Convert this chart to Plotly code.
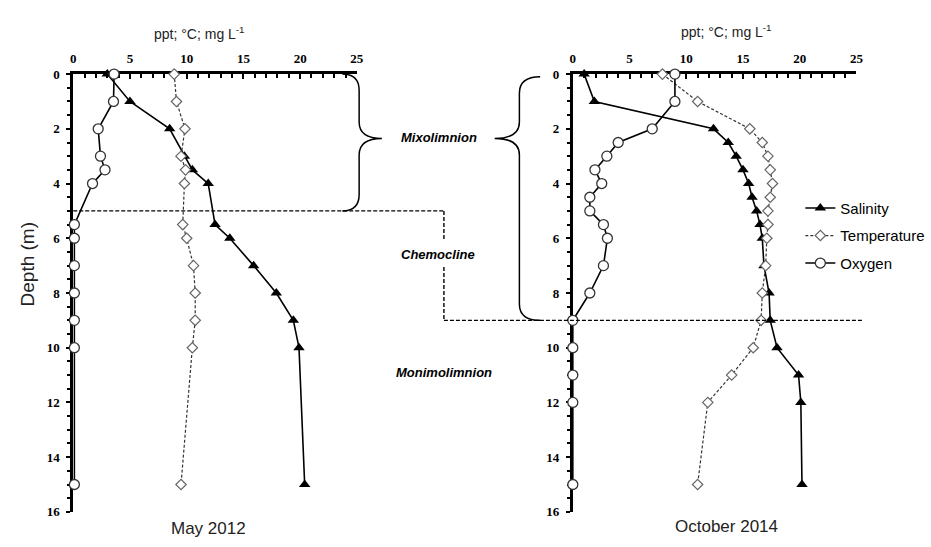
import plotly.graph_objects as go

# ---------------- data ----------------
depth_may = [0, 1, 2, 3, 3.5, 4, 5.5, 6, 7, 8, 9, 10, 15]
sal_may = [3.0, 5.0, 8.5, 9.8, 10.5, 11.9, 12.5, 13.8, 15.9, 17.9, 19.4, 19.9, 20.4]
temp_may = [8.9, 9.1, 9.85, 9.5, 9.9, 9.8, 9.65, 10.0, 10.6, 10.75, 10.75, 10.5, 9.5]
oxy_may = [3.6, 3.55, 2.2, 2.4, 2.8, 1.7, 0.1, 0.1, 0.1, 0.1, 0.1, 0.1, 0.1]

depth_oct = [0, 1, 2, 2.5, 3, 3.5, 4, 4.5, 5, 5.5, 6, 7, 8, 9, 10, 11, 12, 15]
sal_oct = [1.0, 1.9, 12.4, 13.7, 14.4, 15.0, 15.5, 15.8, 16.2, 16.5, 16.7, 16.85, 17.3, 17.4, 18.0, 19.9, 20.1, 20.2]
temp_oct = [7.9, 11.0, 15.6, 16.7, 17.2, 17.4, 17.6, 17.4, 17.2, 17.2, 17.1, 17.0, 16.7, 16.6, 15.9, 14.0, 11.9, 11.0]
oxy_oct = [9.0, 9.0, 7.0, 4.0, 3.0, 1.95, 2.55, 1.5, 1.5, 2.7, 3.05, 2.7, 1.5, 0, 0, 0, 0, 0]

x_ticks = [0, 5, 10, 15, 20, 25]
y_ticks = [0, 2, 4, 6, 8, 10, 12, 14, 16]
series_names = ["Salinity", "Temperature", "Oxygen"]
panel_labels = ["May 2012", "October 2014"]
layer_labels = ["Mixolimnion", "Chemocline", "Monimolimnion"]
mixo_bottom = [5, 9]  # depth of mixolimnion bottom for each panel

W, H = 931, 547
SANS = "Liberation Sans, Arial, sans-serif"
SERIF = "Liberation Serif, Times New Roman, serif"


def px(x):
    return x / W


def py(y):
    return 1 - y / H


fig = go.Figure()

panels = [
    (depth_may, sal_may, temp_may, oxy_may, "x", "y", False),
    (depth_oct, sal_oct, temp_oct, oxy_oct, "x2", "y2", True),
]
for d, s, t, o, xa, ya, show in panels:
    fig.add_trace(go.Scatter(
        x=s, y=d, xaxis=xa, yaxis=ya, name=series_names[0], mode="lines+markers",
        line=dict(color="black", width=1.6),
        marker=dict(symbol="triangle-up", size=10, color="black"),
        showlegend=show, legendgroup="s", cliponaxis=False))
    fig.add_trace(go.Scatter(
        x=t, y=d, xaxis=xa, yaxis=ya, name=series_names[1], mode="lines+markers",
        line=dict(color="#333333", width=1.2, dash="3px,2px"),
        marker=dict(symbol="diamond", size=8, color="white",
                    line=dict(color="#666666", width=1.2)),
        showlegend=show, legendgroup="t", cliponaxis=False))
    fig.add_trace(go.Scatter(
        x=o, y=d, xaxis=xa, yaxis=ya, name=series_names[2], mode="lines+markers",
        line=dict(color="black", width=1.6),
        marker=dict(symbol="circle", size=10, color="white",
                    line=dict(color="#333333", width=1.3)),
        showlegend=show, legendgroup="o", cliponaxis=False))

ydom = [0.051, py(69)]
xdoms = [[px(71), px(357.7)], [px(576), px(862.7)]]

common_x = dict(range=[0, 25], side="top", showgrid=False, zeroline=False,
                showline=True, linecolor="black", linewidth=3,
                tickvals=x_ticks, ticks="inside", ticklen=5, tickwidth=2,
                tickcolor="black", ticklabelstandoff=3,
                minor=dict(dtick=1, ticks="inside", ticklen=4, tickwidth=1.5, tickcolor="black"),
                tickfont=dict(family=SERIF, size=13, color="black", weight="bold"),
                layer="below traces", fixedrange=True)
common_y = dict(range=[16, 0], showgrid=False, zeroline=False,
                showline=True, linecolor="black", linewidth=3,
                tickvals=y_ticks, ticks="outside", ticklen=4, tickwidth=2,
                tickcolor="black", ticklabelstandoff=4,
                minor=dict(dtick=0.5, ticks="outside", ticklen=3, tickwidth=1.5, tickcolor="black"),
                tickfont=dict(family=SERIF, size=13, color="black", weight="bold"),
                layer="below traces", fixedrange=True)

fig.update_layout(
    width=W, height=H,
    margin=dict(l=0, r=0, t=0, b=0),
    paper_bgcolor="white", plot_bgcolor="white",
    xaxis=dict(domain=xdoms[0], anchor="y", **common_x),
    yaxis=dict(domain=ydom, anchor="x", **common_y),
    xaxis2=dict(domain=xdoms[1], anchor="y2", **common_x),
    yaxis2=dict(domain=ydom, anchor="x2", **common_y),
    legend=dict(x=px(806), y=py(190), xanchor="left", yanchor="top",
                font=dict(family=SANS, size=15, color="black"),
                bgcolor="rgba(0,0,0,0)", traceorder="grouped",
                tracegroupgap=5, itemwidth=30),
    showlegend=True,
)


def brace(x0, xb, xt, ytop, ymid, ybot, r):
    return (f"M {x0},{ytop} Q {xb},{ytop} {xb},{ytop + r} "
            f"L {xb},{ymid - r} Q {xb},{ymid} {xt},{ymid} "
            f"Q {xb},{ymid} {xb},{ymid + r} L {xb},{ybot - r} "
            f"Q {xb},{ybot} {x0},{ybot}")


shapes = []
# left brace "}" for May mixolimnion
shapes.append(dict(type="path", xref="paper", yref="y",
                   path=brace(px(343), px(360), px(383), 0, 2.35, mixo_bottom[0], 0.6),
                   line=dict(color="black", width=1.5)))
# right brace "{" for October mixolimnion
shapes.append(dict(type="path", xref="paper", yref="y2",
                   path=brace(px(543), px(522), px(497), 0.1, 2.35, mixo_bottom[1], 0.6),
                   line=dict(color="black", width=1.5)))
dash = dict(color="black", width=1.4, dash="4px,2px")
# dashed boundary lines
shapes.append(dict(type="line", xref="paper", yref="y", x0=px(71), x1=px(445.7),
                   y0=mixo_bottom[0], y1=mixo_bottom[0], line=dash))
shapes.append(dict(type="line", xref="paper", yref="y", x0=px(445.7), x1=px(445.7),
                   y0=mixo_bottom[0], y1=6.05, line=dash))
shapes.append(dict(type="line", xref="paper", yref="y", x0=px(445.7), x1=px(445.7),
                   y0=7.05, y1=mixo_bottom[1], line=dash))
shapes.append(dict(type="line", xref="paper", yref="y2", x0=px(445.7), x1=px(869),
                   y0=mixo_bottom[1], y1=mixo_bottom[1], line=dash))
fig.update_layout(shapes=shapes)

ann = []
C = dict(showarrow=False, xanchor="center", yanchor="middle")
lab_font = dict(family=SANS, size=13, color="black", weight="bold", style="italic")
ann.append(dict(text=layer_labels[0], xref="paper", yref="y", x=px(441), y=2.3,
                font=lab_font, **C))
ann.append(dict(text=layer_labels[1], xref="paper", yref="y", x=px(440), y=6.6,
                font=lab_font, **C))
ann.append(dict(text=layer_labels[2], xref="paper", yref="y", x=px(446), y=10.9,
                font=lab_font, **C))
unit = "ppt; °C; mg L<sup>-1</sup>"
ann.append(dict(text=unit, xref="paper", yref="paper", x=px(199), y=py(27),
                font=dict(family=SANS, size=14, color="#222"), **C))
ann.append(dict(text=unit, xref="paper", yref="paper", x=px(731), y=py(25),
                font=dict(family=SANS, size=14, color="#222"), **C))
ann.append(dict(text=panel_labels[0], xref="paper", yref="paper", x=px(208), y=py(536),
                font=dict(family=SANS, size=17, color="#222"), **C))
ann.append(dict(text=panel_labels[1], xref="paper", yref="paper", x=px(731), y=py(534),
                font=dict(family=SANS, size=17, color="#222"), **C))
ann.append(dict(text="Depth (m)", xref="paper", yref="paper", x=px(25), y=py(265),
                textangle=-90, font=dict(family=SANS, size=19, color="#222"), **C))
fig.update_layout(annotations=ann)

fig.write_html("out.html")
